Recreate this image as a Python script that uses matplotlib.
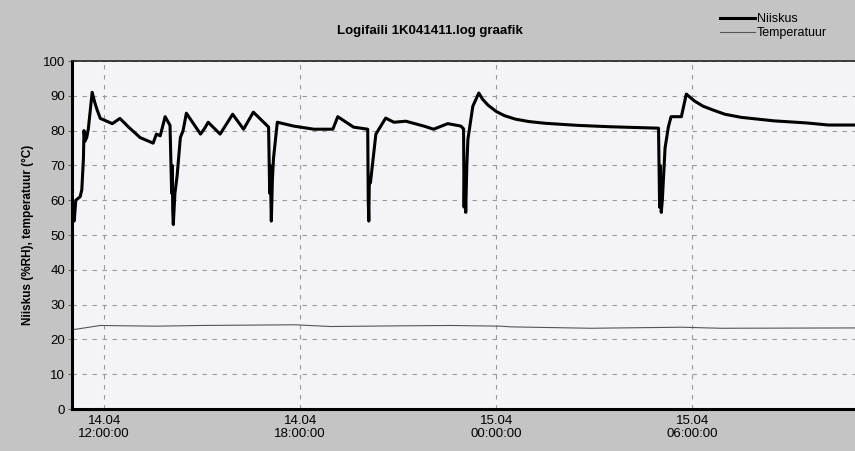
import numpy as np
import pandas as pd
import matplotlib
matplotlib.use("Agg")
import matplotlib.pyplot as plt
import matplotlib.dates as mdates

plt.rcParams['font.family'] = ['Liberation Sans', 'DejaVu Sans']

# humidity (Niiskus)
rh_time = ["14.04 11:03", "14.04 11:05", "14.04 11:08", "14.04 11:16", "14.04 11:19",
           "14.04 11:22", "14.04 11:23", "14.04 11:25", "14.04 11:28", "14.04 11:31",
           "14.04 11:38", "14.04 11:43", "14.04 11:47", "14.04 11:53", "14.04 12:15",
           "14.04 12:29", "14.04 12:45", "14.04 13:06", "14.04 13:30", "14.04 13:36",
           "14.04 13:43", "14.04 13:52", "14.04 14:01", "14.04 14:04", "14.04 14:05",
           "14.04 14:06", "14.04 14:07", "14.04 14:10", "14.04 14:14", "14.04 14:20",
           "14.04 14:25", "14.04 14:31", "14.04 14:57", "14.04 15:04", "14.04 15:11",
           "14.04 15:33", "14.04 15:56", "14.04 16:16", "14.04 16:34", "14.04 17:02",
           "14.04 17:04", "14.04 17:05", "14.04 17:07", "14.04 17:09", "14.04 17:11",
           "14.04 17:18", "14.04 17:48", "14.04 18:25", "14.04 19:00", "14.04 19:09",
           "14.04 19:38", "14.04 20:04", "14.04 20:05", "14.04 20:06", "14.04 20:07",
           "14.04 20:09", "14.04 20:19", "14.04 20:37", "14.04 20:52", "14.04 21:14",
           "14.04 21:47", "14.04 22:05", "14.04 22:31", "14.04 22:55", "14.04 23:00",
           "14.04 23:01", "14.04 23:02", "14.04 23:04", "14.04 23:06", "14.04 23:08",
           "14.04 23:17", "14.04 23:28", "14.04 23:35", "14.04 23:45", "15.04 00:00",
           "15.04 00:15", "15.04 00:35", "15.04 01:00", "15.04 01:30", "15.04 02:30",
           "15.04 03:30", "15.04 04:58", "15.04 05:00", "15.04 05:01", "15.04 05:03",
           "15.04 05:05", "15.04 05:10", "15.04 05:16", "15.04 05:21", "15.04 05:40",
           "15.04 05:49", "15.04 06:04", "15.04 06:20", "15.04 06:40", "15.04 07:00",
           "15.04 07:30", "15.04 08:30", "15.04 09:30", "15.04 10:10", "15.04 11:10"]
rh_value = [58, 54, 60, 61, 63,
            72, 80, 77, 78, 80.5,
            91, 88, 86, 83.5, 82,
            83.5, 81, 78, 76.4, 79,
            78.5, 84, 81.5, 62, 70,
            57, 53, 62, 67, 78,
            80, 85, 79, 80.5, 82.4,
            79, 84.7, 80.4, 85.3, 81,
            62, 70, 54, 66, 72,
            82.4, 81.3, 80.4, 80.4, 84,
            81, 80.4, 60, 54, 66,
            65, 79, 83.6, 82.4, 82.7,
            81.3, 80.4, 82, 81.3, 80.5,
            58, 70, 56.5, 70, 77.5,
            87, 90.8, 89, 87.3, 85.5,
            84.3, 83.3, 82.6, 82.1, 81.5,
            81.1, 80.7, 58, 70, 56.5,
            60, 75, 81, 84, 84,
            90.5, 88.5, 87, 85.8, 84.7,
            83.8, 82.8, 82.2, 81.6, 81.6]

# temperature (Temperatuur)
t_time = ["14.04 11:03", "14.04 11:53", "14.04 13:34", "14.04 14:57", "14.04 17:51",
          "14.04 18:56", "14.04 21:05", "14.04 22:37", "15.04 00:09", "15.04 00:27",
          "15.04 02:54", "15.04 05:40", "15.04 06:53", "15.04 11:10"]
t_value = [22.8, 24.0, 23.8, 24.0, 24.2,
           23.7, 23.9, 24.0, 23.8, 23.6,
           23.2, 23.5, 23.2, 23.3]

y_ticks = [0, 10, 20, 30, 40, 50, 60, 70, 80, 90, 100]


def to_dt(lst):
    return pd.to_datetime(["2011." + s for s in lst], format="%Y.%d.%m %H:%M")


rh_x = to_dt(rh_time)
t_x = to_dt(t_time)

bg = "#c4c4c4"
fig = plt.figure(figsize=(8.55, 4.51), dpi=100, facecolor=bg)
ax = fig.add_axes([72 / 855, 1 - 409 / 451, 800 / 855, (409 - 61) / 451])
ax.set_facecolor("#f4f4f8")

l1, = ax.plot(rh_x, rh_value, color="black", lw=2.2, label="Niiskus")
l2, = ax.plot(t_x, t_value, color="#555555", lw=0.8, label="Temperatuur")

ax.set_ylim(0, 100)
ax.set_yticks(y_ticks)
ax.set_xlim(pd.Timestamp("2011-04-14 11:01"), pd.Timestamp("2011-04-15 11:30"))
ax.xaxis.set_major_locator(mdates.HourLocator(byhour=[0, 6, 12, 18]))
ax.xaxis.set_major_formatter(mdates.DateFormatter("%d.%m\n%H:%M:%S"))

ax.grid(True, color="#999999", ls=(0, (4, 5)), lw=0.8)
for side in ["left", "bottom"]:
    ax.spines[side].set_linewidth(2.2)
ax.spines["top"].set_linewidth(1.2)
ax.spines["top"].set_color("#222222")
ax.spines["right"].set_visible(False)
ax.tick_params(axis="y", labelsize=9.5, length=3, color="#666666", pad=2)
ax.tick_params(axis="x", labelsize=9.5, length=0, pad=4)

ax.set_ylabel("Niiskus (%RH), temperatuur (°C)", fontsize=8.5, fontweight="bold", labelpad=6)
fig.text(430 / 855, 1 - 31 / 451, "Logifaili 1K041411.log graafik", ha="center", va="center",
         fontsize=9.5, fontweight="bold")

fig.legend(handles=[l1, l2], loc="upper left", bbox_to_anchor=(712 / 855, 1 - 6 / 451),
           frameon=False, fontsize=9, handlelength=2.8, handletextpad=0.2,
           labelspacing=0.15, borderaxespad=0.2)

fig.savefig("out.png", dpi=100, facecolor=bg)
